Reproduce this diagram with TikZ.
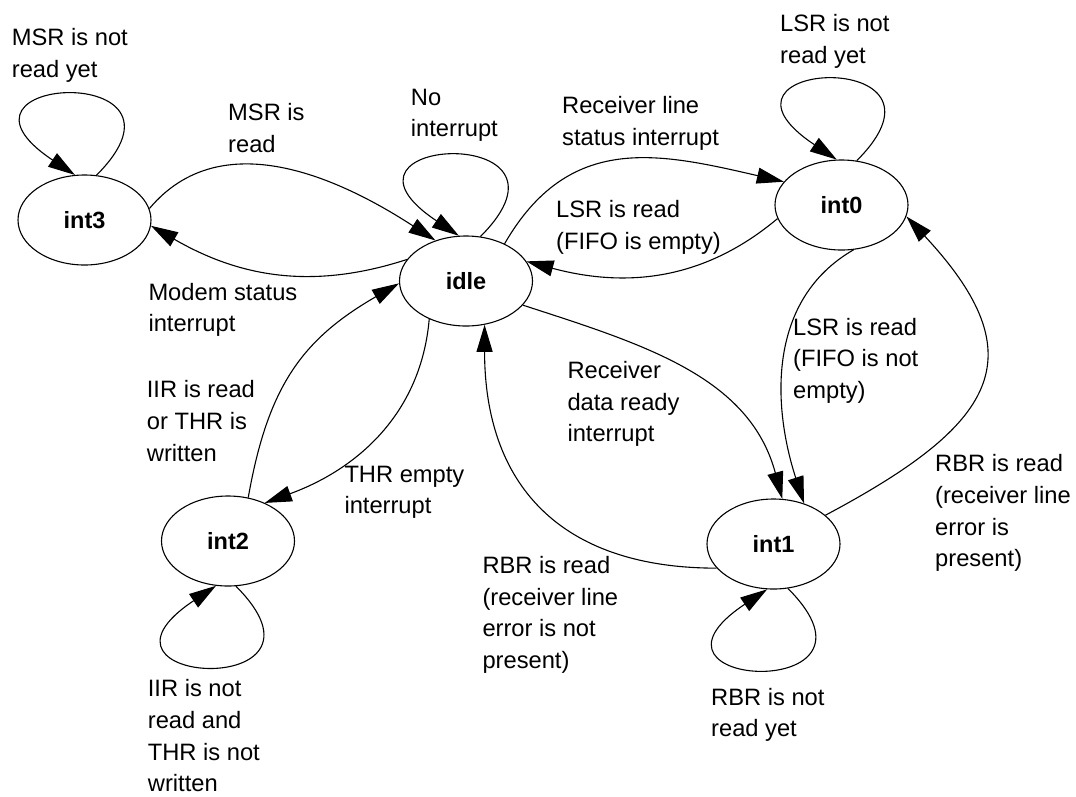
\documentclass[tikz,border=0pt]{standalone}
\usepackage{fontspec}
\setmainfont{Liberation Sans}
\usetikzlibrary{arrows.meta,shapes.geometric,calc}
\begin{document}
\begin{tikzpicture}[x=1pt,y=1pt,
  state/.style={ellipse,draw,line width=1.1pt,minimum width=133pt,minimum height=90pt,inner sep=0pt,font=\fontsize{23.5}{28}\selectfont\bfseries},
  lbl/.style={anchor=base west,align=left,inner sep=0pt,font=\fontsize{23.7}{31.7}\selectfont},
  edge/.style={line width=1.1pt,-{Triangle[length=27pt,width=16pt]}},
]
\useasboundingbox[fill=white] (0,0) rectangle (1076,-796);
% states
\node[state] (int3) at (84.5,-220) {int3};
\node[state] (idle) at (466,-281) {idle};
\node[state] (int0) at (841.5,-205) {int0};
\node[state] (int2) at (228,-541) {int2};
\node[state] (int1) at (773.5,-544) {int1};
% self loops
\draw[edge] (int3.75) .. controls ($(int3.75)+(115,115)$) and ($(int3.102)+(-150,100)$) .. (int3.102);
\draw[edge] (idle.72) .. controls ($(idle.72)+(115,115)$) and ($(idle.99)+(-150,100)$) .. (idle.99);
\draw[edge] (int0.71) .. controls ($(int0.71)+(115,115)$) and ($(int0.96)+(-150,100)$) .. (int0.96);
\draw[edge] (int1.288) .. controls ($(int1.288)+(115,-115)$) and ($(int1.262)+(-150,-100)$) .. (int1.262);
\draw[edge] (int2.280) .. controls ($(int2.280)+(115,-115)$) and ($(int2.255)+(-150,-100)$) .. (int2.255);
% transitions
\draw[edge] (int3.10) to[out=50,in=147] (idle.127);
\draw[edge] (idle.160) to[out=198,in=-30] (int3.355);
\draw[edge] (idle.44) to[out=60,in=167,looseness=1.15] (int0.158);
\draw[edge] (int0.192) to[out=220,in=-15] (idle.18);
\draw[edge] (int0.285) to[out=210,in=108] (int1.53);
\draw[edge] (idle.337) to[out=-18,in=105] (int1.79);
\draw[edge] (int1.203) to[out=180,in=-90,looseness=1.2] (idle.293);
\draw[edge] (int1.29) to[out=28,in=-47,looseness=1.6] (int0.350);
\draw[edge] (idle.226) to[out=-95,in=20] (int2.46);
\draw[edge] (int2.65) to[out=80,in=210,looseness=1.1] (idle.182);
% labels (anchored at the baseline of the last line)
\node[lbl] (l1) at (11.7,-77.4) {MSR is not\\read yet};
\node[lbl] (l2) at (228,-152.4) {MSR is\\read};
\node[lbl] (l3) at (410.7,-136.7) {No\\interrupt};
\node[lbl] (l4) at (562,-145) {Receiver line\\status interrupt};
\node[lbl] (l5) at (780,-63.4) {LSR is not\\read yet};
\node[lbl] (l6) at (556,-249.2) {LSR is read\\(FIFO is empty)};
\node[lbl] (l7) at (148.3,-331.7) {Modem status\\interrupt};
\node[lbl] (l8) at (146.7,-461.1) {IIR is read\\or THR is\\written};
\node[lbl] (l9) at (344.3,-513.7) {THR empty\\interrupt};
\node[lbl] (l10) at (567.3,-441.7) {Receiver\\data ready\\interrupt};
\node[lbl] (l11) at (793,-398.4) {LSR is read\\(FIFO is not\\empty)};
\node[lbl] (l12) at (935,-566.8) {RBR is read\\(receiver line\\error is\\present)};
\node[lbl] (l13) at (482.3,-668.4) {RBR is read\\(receiver line\\error is not\\present)};
\node[lbl] (l14) at (711,-736.7) {RBR is not\\read yet};
\node[lbl] (l15) at (147.7,-791.8) {IIR is not\\read and\\THR is not\\written};
\end{tikzpicture}
\end{document}
